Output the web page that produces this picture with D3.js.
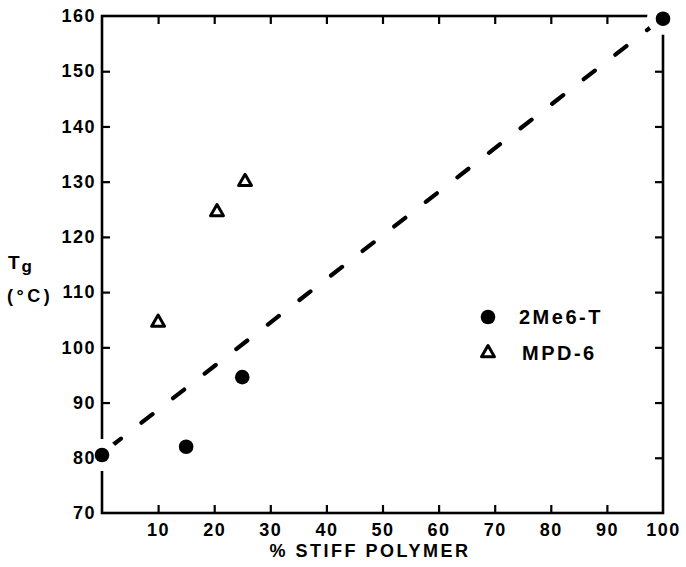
<!DOCTYPE html>
<html>
<head>
<meta charset="utf-8">
<script src="https://cdn.jsdelivr.net/npm/d3@7"></script>
<style>
  html, body { margin: 0; padding: 0; background: #fff; }
  svg { display: block; }
  text { font-family: "Liberation Sans", Arial, sans-serif; font-weight: bold; fill: #000; }
</style>
</head>
<body>
<svg id="chart" width="686" height="567"></svg>
<script>
// Glass transition temperature vs. stiff polymer content
const seriesNames = ["2Me6-T", "MPD-6"];
const me6tX = [0, 15, 25, 100];
const me6tY = [80.5, 82, 94.6, 159.5];
const mpd6X = [10, 20.5, 25.5];
const mpd6Y = [104.5, 124.5, 130];
// dashed trend line end points
const trendX = [0, 100];
const trendY = [80.8, 159.7];
const xTicks = [10, 20, 30, 40, 50, 60, 70, 80, 90, 100];
const yTicks = [70, 80, 90, 100, 110, 120, 130, 140, 150, 160];

const svg = d3.select("#chart");
const x = d3.scaleLinear().domain([0, 100]).range([102, 663]);
const y = d3.scaleLinear().domain([70, 160]).range([513, 16]);

const tickStyle = g => {
  g.select(".domain").remove();
  g.selectAll(".tick line").attr("stroke", "#000").attr("stroke-width", 2.2);
};
const labelStyle = g => {
  g.select(".domain").remove();
  g.selectAll(".tick line").remove();
  g.selectAll(".tick text")
    .style("font-size", "18px")
    .style("letter-spacing", "1.5px")
    .attr("fill", "#000");
};

// inward tick marks on all four sides
svg.append("g")
  .attr("transform", `translate(0,${y(70)})`)
  .call(d3.axisBottom(x).tickValues(xTicks.slice(0, -1)).tickSizeInner(-8).tickSizeOuter(0).tickFormat(""))
  .call(tickStyle);
svg.append("g")
  .attr("transform", `translate(0,${y(160)})`)
  .call(d3.axisTop(x).tickValues(xTicks.slice(0, -1)).tickSizeInner(-8).tickSizeOuter(0).tickFormat(""))
  .call(tickStyle);
svg.append("g")
  .attr("transform", `translate(${x(0)},0)`)
  .call(d3.axisLeft(y).tickValues(yTicks.slice(1, -1)).tickSizeInner(-8).tickSizeOuter(0).tickFormat(""))
  .call(tickStyle);
svg.append("g")
  .attr("transform", `translate(${x(100)},0)`)
  .call(d3.axisRight(y).tickValues(yTicks.slice(1, -1)).tickSizeInner(-8).tickSizeOuter(0).tickFormat(""))
  .call(tickStyle);

// frame
svg.append("rect")
  .attr("x", x(0)).attr("y", y(160))
  .attr("width", x(100) - x(0)).attr("height", y(70) - y(160))
  .attr("fill", "none").attr("stroke", "#000").attr("stroke-width", 2.6);

// dashed trend line
svg.append("path")
  .datum(d3.zip(trendX, trendY))
  .attr("d", d3.line().x(d => x(d[0])).y(d => y(d[1])))
  .attr("fill", "none")
  .attr("stroke", "#000")
  .attr("stroke-width", 4.2)
  .attr("stroke-linecap", "round")
  .attr("stroke-dasharray", "14,26")
  .attr("stroke-dashoffset", -10);

const me6t = d3.zip(me6tX, me6tY);
const mpd6 = d3.zip(mpd6X, mpd6Y);

// white clearance around the filled markers
svg.append("g").selectAll("circle")
  .data(me6t).join("circle")
  .attr("cx", d => x(d[0])).attr("cy", d => y(d[1]))
  .attr("r", 16).attr("fill", "#fff");

// tick labels
svg.append("g")
  .attr("transform", `translate(0,${y(70)})`)
  .call(d3.axisBottom(x).tickValues(xTicks).tickSize(0).tickPadding(10))
  .call(labelStyle);
svg.append("g")
  .attr("transform", `translate(${x(0)},0)`)
  .call(d3.axisLeft(y).tickValues(yTicks).tickSize(0).tickPadding(6))
  .call(labelStyle);

// 2Me6-T: filled circles
svg.append("g").selectAll("circle")
  .data(me6t).join("circle")
  .attr("cx", d => x(d[0])).attr("cy", d => y(d[1]))
  .attr("r", 7.3).attr("fill", "#000");

// MPD-6: open triangles
const tri = d3.symbol().type(d3.symbolTriangle).size(72);
svg.append("g").selectAll("path")
  .data(mpd6).join("path")
  .attr("transform", d => `translate(${x(d[0])},${y(d[1])})`)
  .attr("d", tri)
  .attr("fill", "#fff").attr("stroke", "#000").attr("stroke-width", 3)
  .attr("stroke-linejoin", "round");

// legend
const legend = svg.append("g").attr("transform", "translate(488,317)");
legend.append("circle").attr("cx", 0).attr("cy", 0).attr("r", 7.3).attr("fill", "#000");
legend.append("path").attr("transform", "translate(0,36)").attr("d", tri)
  .attr("fill", "#fff").attr("stroke", "#000").attr("stroke-width", 3).attr("stroke-linejoin", "round");
legend.selectAll("text.lbl")
  .data(seriesNames).join("text")
  .attr("class", "lbl")
  .attr("x", (d, i) => i === 0 ? 31 : 34)
  .attr("y", (d, i) => i * 36)
  .attr("dy", "0.36em")
  .style("font-size", "20px")
  .style("letter-spacing", "2.5px")
  .text(d => d);

// axis titles
svg.append("text")
  .attr("x", 370).attr("y", 557)
  .attr("text-anchor", "middle")
  .style("font-size", "18px")
  .style("letter-spacing", "2.5px")
  .text("% STIFF POLYMER");

const yTitle = svg.append("text").attr("x", 8).attr("y", 269).style("font-size", "19px");
yTitle.append("tspan").text("T");
yTitle.append("tspan").attr("dx", 2).attr("dy", 3).style("font-size", "17px").text("g");
svg.append("text")
  .attr("x", 7).attr("y", 302)
  .style("font-size", "18px")
  .style("letter-spacing", "3.5px")
  .text("(°C)");
</script>
</body>
</html>
